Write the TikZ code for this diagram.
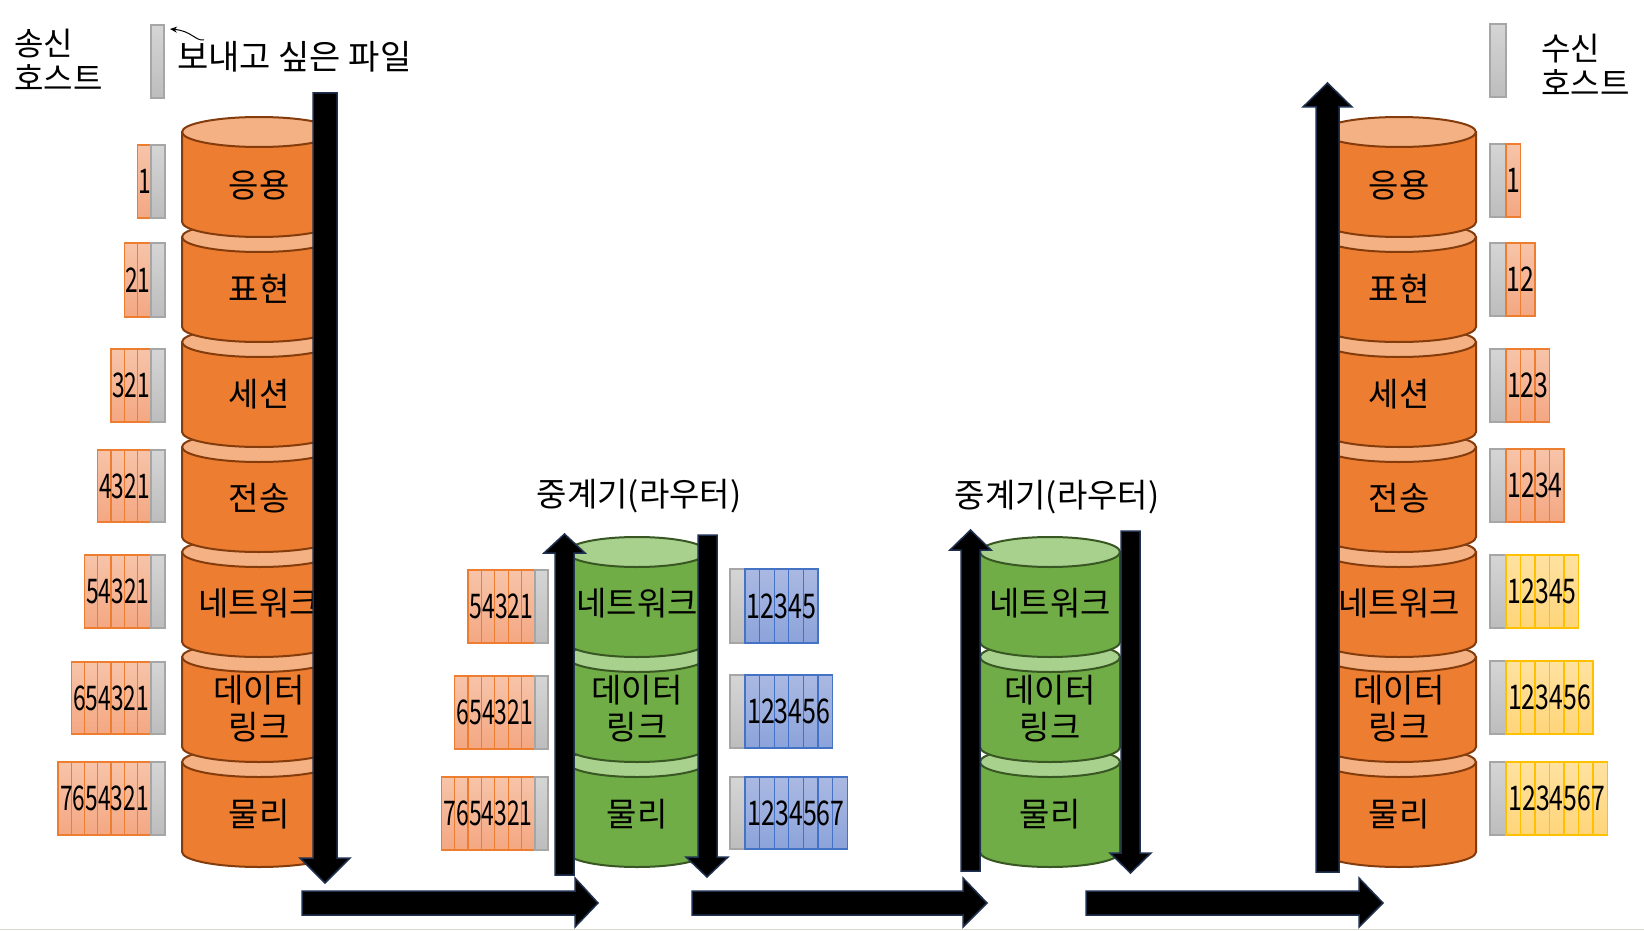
\documentclass[tikz,border=0pt]{standalone}
\usepackage{fontspec}
\usepackage{graphicx}
\setmainfont{Noto Sans CJK KR}
\usetikzlibrary{arrows.meta}
\definecolor{orbody}{HTML}{ED7D31}
\definecolor{ortop}{HTML}{F4B183}
\definecolor{oredge}{HTML}{843C0C}
\definecolor{grbody}{HTML}{70AD47}
\definecolor{grtop}{HTML}{A9D18E}
\definecolor{gredge}{HTML}{385723}
\definecolor{arredge}{HTML}{1F3050}
\definecolor{ocellT}{HTML}{F7C4A9}
\definecolor{ocellB}{HTML}{F4A782}
\definecolor{ocellE}{HTML}{ED7D31}
\definecolor{gcellT}{HTML}{D5D5D5}
\definecolor{gcellB}{HTML}{BDBDBD}
\definecolor{gcellE}{HTML}{A6A6A6}
\definecolor{bcellT}{HTML}{AAB9E2}
\definecolor{bcellB}{HTML}{8CA3DA}
\definecolor{bcellE}{HTML}{4472C4}
\definecolor{ycellT}{HTML}{FFE2A1}
\definecolor{ycellB}{HTML}{FFD57A}
\definecolor{ycellE}{HTML}{FFC000}
\definecolor{bline}{HTML}{D9D6CF}

\newcommand{\cylinder}[6]{%
  \filldraw[fill=#4, draw=#6, line width=2pt, line join=round]
    ({#1-#3},#2) -- ({#1-#3},{#2+90})
    arc[start angle=180, end angle=360, x radius=#3pt, y radius=15pt]
    -- ({#1+#3},#2) -- cycle;
  \filldraw[fill=#5, draw=#6, line width=2pt] (#1,#2) ellipse[x radius=#3pt, y radius=15pt];
}
% cells to the left of a gray cell
\newcommand{\rowL}[9]{%
  \foreach \i in {1,...,#4}{
    \path[#8cell] ({#2-\i*#5},#6) rectangle ({#2-(\i-1)*#5},#7);
  }
  \path[gcell] (#2,#6) rectangle ({#2+#3},#7);
  \pgfmathsetmacro{\tw}{#4*#5*0.95}
  \node[num] (#1) at ({#2-#4*#5/2},{(#6+#7)/2}) {\resizebox{\tw pt}{\height}{#9}};
}
% cells to the right of a gray cell
\newcommand{\rowR}[9]{%
  \path[gcell] (#2,#6) rectangle ({#2+#3},#7);
  \foreach \i in {1,...,#4}{
    \path[#8cell] ({#2+#3+(\i-1)*#5},#6) rectangle ({#2+#3+\i*#5},#7);
  }
  \pgfmathsetmacro{\tw}{#4*#5*0.95}
  \node[num] (#1) at ({#2+#3+#4*#5/2},{(#6+#7)/2}) {\resizebox{\tw pt}{\height}{#9}};
}

\begin{document}
\begin{tikzpicture}[x=1pt,y=-1pt,
  layer/.style={font=\fontsize{33}{37}\selectfont, align=center, inner sep=0pt},
  hostlbl/.style={font=\fontsize{32}{35}\selectfont, align=left, inner sep=0pt, anchor=west},
  num/.style={font=\fontsize{34}{38}\selectfont, inner sep=0pt},
  ocell/.style={draw=ocellE, line width=1.3pt, top color=ocellT, bottom color=ocellB},
  gcell/.style={draw=gcellE, line width=1.3pt, top color=gcellT, bottom color=gcellB},
  bcell/.style={draw=bcellE, line width=1.3pt, top color=bcellT, bottom color=bcellB},
  ycell/.style={draw=ycellE, line width=1.3pt, top color=ycellT, bottom color=ycellB},
  blockarrow/.style={fill=black, draw=arredge, line width=1.5pt, line join=miter}]
\useasboundingbox (0,0) rectangle (1644,931);
\fill[white] (0,0) rectangle (1644,931);
\draw[bline, line width=1.5pt] (0,929.5) -- (1644,929.5);

% ---------- stacks ----------
\foreach \k in {6,5,4,3,2,1,0}{\pgfmathsetmacro\yy{132+105*\k}\cylinder{259}{\yy}{77}{orbody}{ortop}{oredge}}
\foreach \k in {6,5,4,3,2,1,0}{\pgfmathsetmacro\yy{132+105*\k}\cylinder{1399}{\yy}{77}{orbody}{ortop}{oredge}}
\foreach \k in {6,5,4}{\pgfmathsetmacro\yy{132+105*\k}\cylinder{637}{\yy}{70}{grbody}{grtop}{gredge}}
\foreach \k in {6,5,4}{\pgfmathsetmacro\yy{132+105*\k}\cylinder{1050}{\yy}{70}{grbody}{grtop}{gredge}}

\node[layer] (sA) at (259,185) {응용};
\node[layer] (sB) at (259,289) {표현};
\node[layer] (sC) at (259,394) {세션};
\node[layer] (sD) at (259,498) {전송};
\node[layer] (sE) at (259,603) {네트워크};
\node[layer] (sF) at (259,709) {데이터\\링크};
\node[layer] (sG) at (259,814) {물리};

\node[layer] (dA) at (1399,185) {응용};
\node[layer] (dB) at (1399,289) {표현};
\node[layer] (dC) at (1399,394) {세션};
\node[layer] (dD) at (1399,498) {전송};
\node[layer] (dE) at (1399,603) {네트워크};
\node[layer] (dF) at (1399,709) {데이터\\링크};
\node[layer] (dG) at (1399,814) {물리};

\node[layer] (aE) at (637,603) {네트워크};
\node[layer] (aF) at (637,709) {데이터\\링크};
\node[layer] (aG) at (637,814) {물리};

\node[layer] (bE) at (1050,603) {네트워크};
\node[layer] (bF) at (1050,709) {데이터\\링크};
\node[layer] (bG) at (1050,814) {물리};

\node[layer] (r1) at (639,496) {중계기(라우터)};
\node[layer] (r2) at (1057,497) {중계기(라우터)};

% ---------- hosts ----------
\node[hostlbl] (snd) at (14,60) {송신\\호스트};
\node[hostlbl] (rcv) at (1541,65) {수신\\호스트};
\node[gcell, minimum width=13pt, minimum height=73pt, inner sep=0pt] (fileS) at (157.5,61.5) {};
\node[gcell, minimum width=16pt, minimum height=73pt, inner sep=0pt] (fileR) at (1498,60.5) {};
\node[font=\fontsize{34}{38}\selectfont, inner sep=0pt, anchor=west] (ftxt) at (177,57) {보내고 싶은 파일};
\coordinate (curvS) at (204,40);
\coordinate (curvE) at (170,29);
\draw[line width=1pt, -{Stealth[length=7pt,width=6pt]}] (curvS) .. controls (195,41) and (192,31) .. (curvE);

% ---------- data units ----------
\rowL{sn1}{151}{14}{1}{13.3}{145}{218}{o}{1}
\rowL{sn2}{151}{14}{2}{13.3}{243}{317}{o}{21}
\rowL{sn3}{151}{14}{3}{13.3}{349}{422}{o}{321}
\rowL{sn4}{151}{14}{4}{13.3}{450}{522}{o}{4321}
\rowL{sn5}{151}{14}{5}{13.3}{555}{628}{o}{54321}
\rowL{sn6}{151}{14}{6}{13.3}{662}{734}{o}{654321}
\rowL{sn7}{151}{14}{7}{13.3}{762}{835}{o}{7654321}

\rowL{ra5}{535}{13}{5}{13.4}{570}{643}{o}{54321}
\rowL{ra6}{535}{13}{6}{13.4}{676}{749}{o}{654321}
\rowL{ra7}{535}{13}{7}{13.4}{777}{850}{o}{7654321}

\rowR{rb5}{730}{15}{5}{14.6}{569}{643}{b}{12345}
\rowR{rb6}{730}{15}{6}{14.6}{675}{748}{b}{123456}
\rowR{rb7}{730}{15}{7}{14.6}{777}{849}{b}{1234567}

\rowR{rn1}{1490}{16}{1}{14.5}{144}{217}{o}{1}
\rowR{rn2}{1490}{16}{2}{14.5}{243}{316}{o}{12}
\rowR{rn3}{1490}{16}{3}{14.5}{349}{422}{o}{123}
\rowR{rn4}{1490}{16}{4}{14.5}{449}{522}{o}{1234}
\rowR{rn5}{1490}{16}{5}{14.5}{555}{628}{y}{12345}
\rowR{rn6}{1490}{16}{6}{14.5}{661}{734}{y}{123456}
\rowR{rn7}{1490}{16}{7}{14.5}{762}{835}{y}{1234567}

% ---------- block arrows ----------
\draw[blockarrow] (313,93) -- (337,93) -- (337,858) -- (350,858) -- (325,883) -- (300,858) -- (313,858) -- cycle;
\draw[blockarrow] (555,875) -- (574,875) -- (574,553) -- (585,553) -- (564.5,534) -- (544,553) -- (555,553) -- cycle;
\draw[blockarrow] (698,535) -- (717,535) -- (717,857) -- (728,857) -- (707,877) -- (686,857) -- (698,857) -- cycle;
\draw[blockarrow] (961,871) -- (980,871) -- (980,550) -- (991,550) -- (970.5,530) -- (950,550) -- (961,550) -- cycle;
\draw[blockarrow] (1121,531) -- (1140,531) -- (1140,853) -- (1151,853) -- (1130.5,873) -- (1110,853) -- (1121,853) -- cycle;
\draw[blockarrow] (1316,872) -- (1339,872) -- (1339,107) -- (1352,107) -- (1327.5,83) -- (1303,107) -- (1316,107) -- cycle;

\draw[blockarrow] (302,891) -- (575,891) -- (575,878) -- (598,903) -- (575,927) -- (575,915) -- (302,915) -- cycle;
\draw[blockarrow] (692,891) -- (963,891) -- (963,878) -- (987,903) -- (963,927) -- (963,915) -- (692,915) -- cycle;
\draw[blockarrow] (1086,891) -- (1359,891) -- (1359,878) -- (1383,903) -- (1359,927) -- (1359,915) -- (1086,915) -- cycle;
\end{tikzpicture}
\end{document}
